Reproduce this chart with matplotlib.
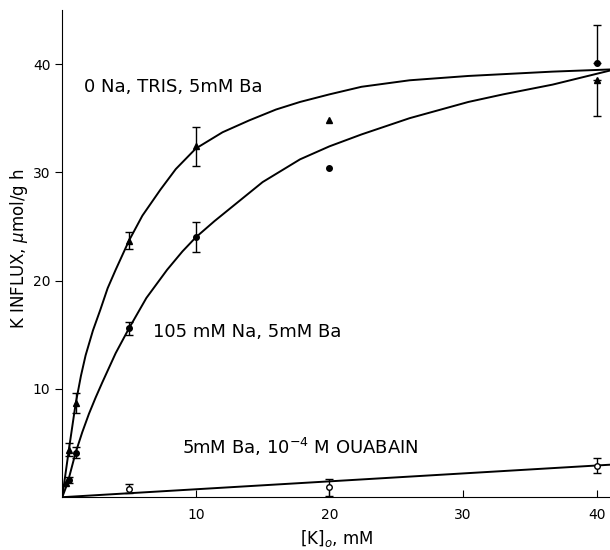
import numpy as np
import matplotlib.pyplot as plt

# K influx vs external K
# 0 Na, TRIS, 5mM Ba  (triangles)
tris_x = [0.25, 0.5, 1, 5, 10, 20, 40]
tris_y = [1.3, 4.4, 8.7, 23.7, 32.4, 34.8, 38.5]
tris_err_lo = [np.nan, 0.6, 0.9, 0.8, 1.8, np.nan, 3.3]
tris_err_hi = [np.nan, 0.6, 0.9, 0.8, 1.8, np.nan, 0.0]

# 105 mM Na, 5mM Ba  (filled circles)
na_x = [0.5, 1, 5, 10, 20, 40]
na_y = [1.6, 4.1, 15.6, 24.0, 30.4, 40.1]
na_err_lo = [0.3, 0.5, 0.6, 1.4, np.nan, 0.0]
na_err_hi = [0.3, 0.5, 0.6, 1.4, np.nan, 3.5]

# 5mM Ba, 1e-4 M ouabain  (open circles)
oua_x = [5, 20, 40]
oua_y = [0.8, 0.9, 2.9]
oua_err = [0.4, 0.8, 0.7]

# hand drawn curves
tris_curve_x = [0, 0.5, 1, 1.4, 1.75, 2.3, 2.85, 3.4, 4, 5, 6, 7.35, 8.5, 10, 12,
                14, 16, 17.8, 20, 22.4, 26, 30.4, 36.7, 41]
tris_curve_y = [0, 4.4, 8.6, 11.2, 13.1, 15.4, 17.3, 19.3, 21.0, 23.7, 26.0, 28.4, 30.3,
                32.2, 33.7, 34.8, 35.8, 36.5, 37.2, 37.9, 38.5, 38.9, 39.3, 39.5]
na_curve_x = [0, 0.4, 0.7, 1, 1.5, 2, 2.5, 3, 4, 5, 6.3, 7.85, 9, 10, 11.4, 12.8,
              15, 17.8, 20, 22.4, 26, 30.4, 33, 36.7, 41]
na_curve_y = [0, 1.3, 2.7, 4.1, 6.0, 7.7, 9.2, 10.6, 13.3, 15.6, 18.4, 21.0, 22.7, 24.0,
              25.5, 26.9, 29.1, 31.2, 32.4, 33.5, 35.0, 36.5, 37.2, 38.1, 39.4]
oua_curve_x = [0, 41]
oua_curve_y = [0, 3.0]

fig = plt.figure(figsize=(6.1, 5.5), dpi=100)
ax = fig.add_axes([0.102, 0.096, 0.898, 0.886])

ax.plot(tris_curve_x, tris_curve_y, color='black', lw=1.4)
ax.plot(na_curve_x, na_curve_y, color='black', lw=1.4)
ax.plot(oua_curve_x, oua_curve_y, color='black', lw=1.4)

ax.errorbar(tris_x, tris_y, yerr=[tris_err_lo, tris_err_hi], fmt='^', color='black',
            ms=5, capsize=3, elinewidth=1, capthick=1)
ax.errorbar(na_x, na_y, yerr=[na_err_lo, na_err_hi], fmt='o', color='black',
            ms=4, capsize=3, elinewidth=1, capthick=1)
ax.errorbar(oua_x, oua_y, yerr=oua_err, fmt='o', color='black', mfc='white',
            ms=4, capsize=3, elinewidth=1, capthick=1)

ax.text(1.6, 37.9, '0 Na, TRIS, 5mM Ba', fontsize=13, va='center')
ax.text(6.8, 15.3, '105 mM Na, 5mM Ba', fontsize=13, va='center')
ax.text(9.0, 4.6, '5mM Ba, 10$^{-4}$ M OUABAIN', fontsize=13, va='center')

ax.set_xlim(0, 41)
ax.set_ylim(0, 45)
ax.set_xticks([10, 20, 30, 40])
ax.set_yticks([10, 20, 30, 40])
ax.tick_params(axis='x', direction='in', length=5, labelsize=10, pad=8)
ax.tick_params(axis='y', direction='out', length=5, labelsize=10)
ax.spines['top'].set_visible(False)
ax.spines['right'].set_visible(False)
ax.set_xlabel('[K]$_o$, mM', fontsize=12)
ax.set_ylabel('K INFLUX, $\\mu$mol/g h', fontsize=12)
ax.yaxis.set_label_coords(-0.058, 0.51)

fig.savefig('out.png', dpi=100)
